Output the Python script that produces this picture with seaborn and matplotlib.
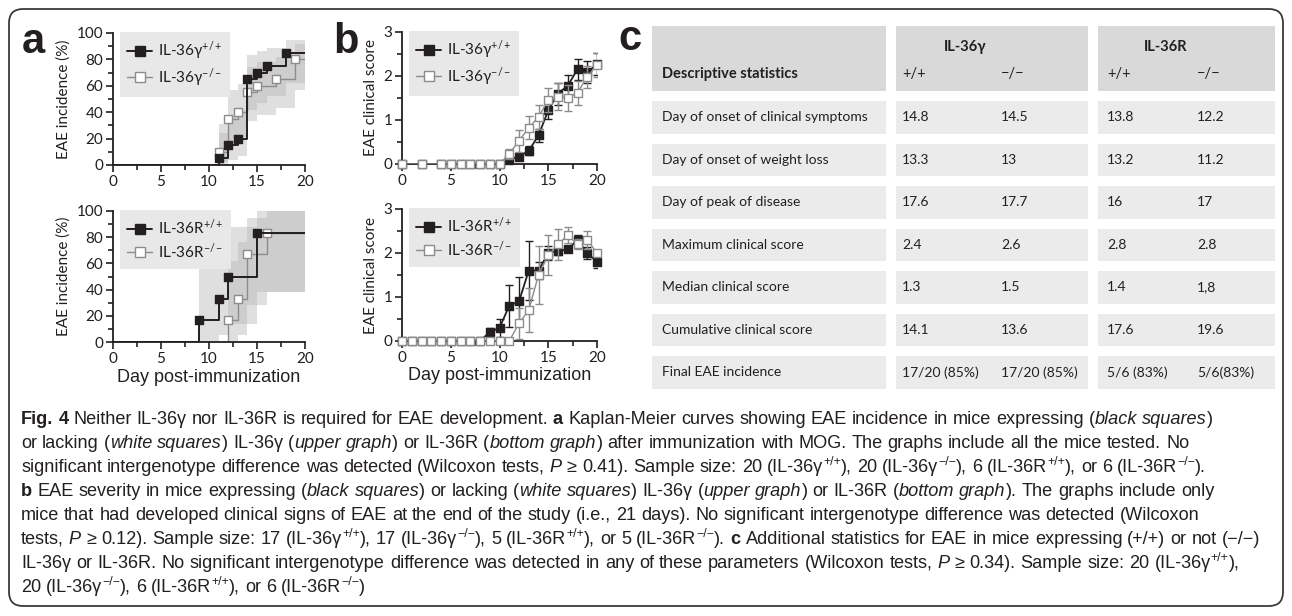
import re
import numpy as np
import pandas as pd
import matplotlib
matplotlib.use("Agg")
import matplotlib.pyplot as plt
import seaborn as sns
from matplotlib import font_manager as fm
from matplotlib.lines import Line2D
from matplotlib.patches import FancyBboxPatch, Rectangle
from matplotlib.ticker import MultipleLocator

# ---------------- data ----------------
# Panel a, upper: Kaplan-Meier EAE incidence (%), IL-36gamma
a1_days_pos = [11, 12, 13, 14, 15, 16, 18]
a1_inc_pos = [5, 15, 20, 65, 70, 75, 85]
a1_lo_pos = [0, 4, 7, 42, 47, 52, 62]
a1_hi_pos = [24, 37, 42, 83, 86, 89, 95]
a1_days_neg = [11, 12, 13, 14, 15, 17, 19]
a1_inc_neg = [10, 35, 40, 55, 60, 65, 80]
a1_lo_neg = [2, 17, 21, 33, 38, 43, 57]
a1_hi_neg = [31, 57, 61, 74, 78, 82, 92]

# Panel a, lower: IL-36R
a2_days_pos = [9, 11, 12, 15]
a2_inc_pos = [17, 33, 50, 83]
a2_lo_pos = [0, 5, 14, 38]
a2_hi_pos = [62, 76, 88, 100]
a2_days_neg = [12, 13, 14, 16]
a2_inc_neg = [17, 33, 67, 83]
a2_lo_neg = [0, 5, 28, 38]
a2_hi_neg = [62, 76, 95, 100]

# Panel b, upper: clinical score (mean, SEM), IL-36gamma
b1_days = [0, 2, 4, 5, 6, 7, 8, 9, 10, 11, 12, 13, 14, 15, 16, 17, 18, 19, 20]
b1_pos = [0, 0, 0, 0, 0, 0, 0, 0, 0, 0.10, 0.17, 0.30, 0.65, 1.22, 1.60, 1.78, 2.15, 2.08, 2.27]
b1_pos_sem = [0, 0, 0, 0, 0, 0, 0, 0, 0, 0.05, 0.07, 0.10, 0.14, 0.20, 0.25, 0.25, 0.23, 0.25, 0.25]
b1_neg = [0, 0, 0, 0, 0, 0, 0, 0, 0, 0.23, 0.53, 0.82, 1.07, 1.45, 1.53, 1.50, 1.62, 1.98, 2.25]
b1_neg_sem = [0, 0, 0, 0, 0, 0, 0, 0, 0, 0.12, 0.25, 0.26, 0.27, 0.27, 0.30, 0.29, 0.27, 0.25, 0.28]

# Panel b, lower: clinical score (mean, SEM), IL-36R
b2_days = [0, 1, 2, 3, 4, 5, 6, 7, 8, 9, 10, 11, 12, 13, 14, 15, 16, 17, 18, 19, 20]
b2_pos = [0, 0, 0, 0, 0, 0, 0, 0, 0, 0.2, 0.3, 0.8, 0.9, 1.6, 1.6, 2.0, 2.05, 2.08, 2.3, 2.0, 1.8]
b2_pos_sem = [0, 0, 0, 0, 0, 0, 0, 0, 0, 0.1, 0.2, 0.48, 0.55, 0.67, 0.2, 0.15, 0.1, 0.06, 0.12, 0.13, 0.15]
b2_neg = [0, 0, 0, 0, 0, 0, 0, 0, 0, 0, 0, 0, 0.4, 0.7, 1.5, 1.95, 2.2, 2.4, 2.2, 2.3, 2.0]
b2_neg_sem = [0, 0, 0, 0, 0, 0, 0, 0, 0, 0, 0, 0, 0.35, 0.5, 0.65, 0.45, 0.35, 0.18, 0.12, 0.2, 0.06]

# Panel c: descriptive statistics table
table_title = "Descriptive statistics"
group_labels = ["IL-36γ", "IL-36R"]
genotype_labels = ["+/+", "−/−", "+/+", "−/−"]
row_labels = ["Day of onset of clinical symptoms", "Day of onset of weight loss",
              "Day of peak of disease", "Maximum clinical score", "Median clinical score",
              "Cumulative clinical score", "Final EAE incidence"]
il36g_pos = ["14.8", "13.3", "17.6", "2.4", "1.3", "14.1", "17/20 (85%)"]
il36g_neg = ["14.5", "13", "17.7", "2.6", "1.5", "13.6", "17/20 (85%)"]
il36r_pos = ["13.8", "13.2", "16", "2.8", "1.4", "17.6", "5/6 (83%)"]
il36r_neg = ["12.2", "11.2", "17", "2.8", "1,8", "19.6", "5/6(83%)"]

legend_g = ["IL-36γ$^{+/+}$", "IL-36γ$^{-/-}$"]
legend_r = ["IL-36R$^{+/+}$", "IL-36R$^{-/-}$"]
ylabel_a = "EAE incidence (%)"
ylabel_b = "EAE clinical score"
xlabel_all = "Day post-immunization"

caption = [
    [("Fig. 4", "b"), (" Neither IL-36γ nor IL-36R is required for EAE development. ", "n"), ("a", "b"),
     (" Kaplan-Meier curves showing EAE incidence in mice expressing (", "n"), ("black squares", "i"), (")", "n")],
    [("or lacking (", "n"), ("white squares", "i"), (") IL-36γ (", "n"), ("upper graph", "i"), (") or IL-36R (", "n"),
     ("bottom graph", "i"), (") after immunization with MOG. The graphs include all the mice tested. No", "n")],
    [("significant intergenotype difference was detected (Wilcoxon tests, ", "n"), ("P", "i"),
     (" ≥ 0.41). Sample size: 20 (IL-36γ", "n"), ("+/+", "s"), ("), 20 (IL-36γ", "n"), ("−/−", "s"),
     ("), 6 (IL-36R", "n"), ("+/+", "s"), ("), or 6 (IL-36R", "n"), ("−/−", "s"), (").", "n")],
    [("b", "b"), (" EAE severity in mice expressing (", "n"), ("black squares", "i"), (") or lacking (", "n"),
     ("white squares", "i"), (") IL-36γ (", "n"), ("upper graph", "i"), (") or IL-36R (", "n"),
     ("bottom graph", "i"), ("). The graphs include only", "n")],
    [("mice that had developed clinical signs of EAE at the end of the study (i.e., 21 days). No significant intergenotype difference was detected (Wilcoxon", "n")],
    [("tests, ", "n"), ("P", "i"), (" ≥ 0.12). Sample size: 17 (IL-36γ", "n"), ("+/+", "s"), ("), 17 (IL-36γ", "n"),
     ("−/−", "s"), ("), 5 (IL-36R", "n"), ("+/+", "s"), ("), or 5 (IL-36R", "n"), ("−/−", "s"), (").", "n"),
     (" c", "b"), (" Additional statistics for EAE in mice expressing (+/+) or not (−/−)", "n")],
    [("IL-36γ or IL-36R. No significant intergenotype difference was detected in any of these parameters (Wilcoxon tests, ", "n"),
     ("P", "i"), (" ≥ 0.34). Sample size: 20 (IL-36γ", "n"), ("+/+", "s"), ("),", "n")],
    [("20 (IL-36γ", "n"), ("−/−", "s"), ("), 6 (IL-36R", "n"), ("+/+", "s"), ("), or 6 (IL-36R", "n"), ("−/−", "s"), (")", "n")],
]

# ---------------- style ----------------
sns.set_theme(style="ticks")
installed = {f.name for f in fm.fontManager.ttflist}


def pick(*names):
    for n in names:
        if n in installed:
            return n
    return "DejaVu Sans"


SANS = pick("Lato", "Open Sans", "Liberation Sans")
NARROW = pick("Liberation Sans Narrow", "Liberation Sans")
HEAVY = pick("Liberation Sans", "DejaVu Sans")
plt.rcParams["font.family"] = [SANS, "DejaVu Sans"]
plt.rcParams["mathtext.fontset"] = "custom"
plt.rcParams["mathtext.rm"] = SANS
plt.rcParams["mathtext.it"] = SANS + ":italic"
plt.rcParams["mathtext.bf"] = SANS + ":bold"

INK = "#231f20"
GRAYLINE = "#8c8c8c"
BAND = (0.72, 0.72, 0.72)

W, H = 1292, 616
fig = plt.figure(figsize=(W / 100, H / 100), dpi=100)
fig.patch.set_facecolor("white")


def rect(l, t, r, b):
    return [l / W, 1 - b / H, (r - l) / W, (b - t) / H]


bg = fig.add_axes([0, 0, 1, 1], zorder=-1)
bg.set_xlim(0, W)
bg.set_ylim(H, 0)
bg.axis("off")
bg.patch.set_alpha(0)

axA1 = fig.add_axes(rect(113, 33, 305, 165))
axA2 = fig.add_axes(rect(113, 211, 305, 342))
axB1 = fig.add_axes(rect(402, 32, 597, 164))
axB2 = fig.add_axes(rect(402, 209, 597, 341))


def style_axes(ax, ymax, ymaj, ymin_, ylabel, xlabel=None):
    ax.set_xlim(0, 20)
    ax.set_ylim(0, ymax)
    ax.xaxis.set_major_locator(MultipleLocator(5))
    ax.xaxis.set_minor_locator(MultipleLocator(2.5))
    ax.yaxis.set_major_locator(MultipleLocator(ymaj))
    ax.yaxis.set_minor_locator(MultipleLocator(ymin_))
    for s in ["top", "right"]:
        ax.spines[s].set_visible(False)
    for s in ["left", "bottom"]:
        ax.spines[s].set_linewidth(1.3)
        ax.spines[s].set_color(INK)
    ax.tick_params(which="major", direction="out", length=5, width=1.2, color=INK,
                   labelsize=11, labelcolor=INK, pad=2)
    ax.tick_params(which="minor", direction="out", length=3.5, width=1.2, color=INK)
    ax.set_ylabel(ylabel, fontsize=11, color=INK, labelpad=4)
    if xlabel:
        ax.set_xlabel(xlabel, fontsize=13, family=[NARROW, "DejaVu Sans"], color=INK, labelpad=2)
    else:
        ax.set_xlabel("")
    ax.set_facecolor("none")


def add_legend(ax, labels):
    h1 = Line2D([], [], color=INK, lw=1.4, marker="s", ms=6.5, mfc=INK, mec=INK)
    h2 = Line2D([], [], color=GRAYLINE, lw=1.0, marker="s", ms=6.5, mfc="white", mec=GRAYLINE)
    leg = ax.legend([h1, h2], labels, loc="upper left", bbox_to_anchor=(0.035, 1.01),
                    frameon=True, fancybox=False, facecolor="#e8e8e8", edgecolor="none",
                    framealpha=1, fontsize=11, handlelength=1.6, handletextpad=0.4,
                    borderpad=0.5, labelspacing=0.25, borderaxespad=0)
    for t in leg.get_texts():
        t.set_color(INK)


def km(ax, days, inc, lo, hi, color, mfc, mec, lw, z):
    xb = list(days) + [20]
    ax.fill_between(xb, list(lo) + [lo[-1]], list(hi) + [hi[-1]], step="post",
                    color=BAND, alpha=0.45, lw=0, zorder=1)
    xs = [0] + list(days) + [20]
    ys = [0] + list(inc) + [inc[-1]]
    sns.lineplot(x=xs, y=ys, drawstyle="steps-post", color=color, lw=lw, ax=ax,
                 estimator=None, legend=False, zorder=z)
    sns.scatterplot(x=days, y=inc, marker="s", s=38, color=mfc, edgecolor=mec, linewidth=1,
                    ax=ax, zorder=z + 1, legend=False, clip_on=False)


def score(ax, days, mean, sem, color, mfc, mec, lw, z):
    d = pd.DataFrame({"day": days, "mean": mean, "sem": sem})
    e = d[d["sem"] > 0]
    ax.errorbar(e["day"], e["mean"], yerr=e["sem"], fmt="none", ecolor=color, elinewidth=1,
                capsize=3, capthick=1, zorder=z)
    sns.lineplot(data=d, x="day", y="mean", color=color, lw=lw, ax=ax, estimator=None,
                 legend=False, zorder=z + 1)
    sns.scatterplot(data=d, x="day", y="mean", marker="s", s=36, color=mfc, edgecolor=mec,
                    linewidth=1, ax=ax, zorder=z + 2, legend=False, clip_on=False)


# panel a
km(axA1, a1_days_neg, a1_inc_neg, a1_lo_neg, a1_hi_neg, GRAYLINE, "white", GRAYLINE, 1.0, 2)
km(axA1, a1_days_pos, a1_inc_pos, a1_lo_pos, a1_hi_pos, INK, INK, INK, 1.4, 4)
km(axA2, a2_days_neg, a2_inc_neg, a2_lo_neg, a2_hi_neg, GRAYLINE, "white", GRAYLINE, 1.0, 2)
km(axA2, a2_days_pos, a2_inc_pos, a2_lo_pos, a2_hi_pos, INK, INK, INK, 1.4, 4)
style_axes(axA1, 100, 20, 10, ylabel_a)
style_axes(axA2, 100, 20, 10, ylabel_a, xlabel_all)
add_legend(axA1, legend_g)
add_legend(axA2, legend_r)

# panel b
score(axB1, b1_days, b1_pos, b1_pos_sem, INK, INK, INK, 1.3, 2)
score(axB1, b1_days, b1_neg, b1_neg_sem, GRAYLINE, "white", GRAYLINE, 1.0, 5)
score(axB2, b2_days, b2_pos, b2_pos_sem, INK, INK, INK, 1.3, 2)
score(axB2, b2_days, b2_neg, b2_neg_sem, GRAYLINE, "white", GRAYLINE, 1.0, 5)
style_axes(axB1, 3, 1, 0.5, ylabel_b)
style_axes(axB2, 3, 1, 0.5, ylabel_b, xlabel_all)
add_legend(axB1, legend_g)
add_legend(axB2, legend_r)

# panel letters
for x, y, s in [(22, 53, "a"), (333, 53, "b"), (618, 50, "c")]:
    bg.text(x, y, s, fontsize=30, fontweight="bold", family=[HEAVY], color=INK,
            ha="left", va="baseline")

# panel c table (pixel layout)
col0 = (652, 886)
sec_g = (896, 1088)
sec_r = (1098, 1275)
hdr = (26, 91)
row_top0, row_step, row_h = 101, 42.5, 32.5
col_x = [902, 1001, 1107, 1197]
TXT = dict(family=[SANS, "DejaVu Sans"], color=INK, va="center", ha="left")
for (l, r) in [col0, sec_g, sec_r]:
    bg.add_patch(Rectangle((l, hdr[0]), r - l, hdr[1] - hdr[0], color="#d9d9d9", lw=0))
    for i in range(len(row_labels)):
        t = row_top0 + i * row_step
        bg.add_patch(Rectangle((l, t), r - l, row_h, color="#ebebeb", lw=0))
bg.text(662, 74, table_title, fontsize=10.5, fontweight="bold", **TXT)
for gi, g in enumerate(group_labels):
    cx = (col_x[2 * gi] + col_x[2 * gi + 1] + 27) / 2
    bg.text(cx, 47, g, fontsize=10.5, fontweight="bold", **{**TXT, "ha": "center"})
for x, g in zip(col_x, genotype_labels):
    bg.text(x, 74, g, fontsize=10.5, **TXT)
cols = [il36g_pos, il36g_neg, il36r_pos, il36r_neg]
for i, lab in enumerate(row_labels):
    yc = row_top0 + i * row_step + row_h / 2
    bg.text(662, yc, lab, fontsize=10, **TXT)
    for x, c in zip(col_x, cols):
        bg.text(x, yc, c[i], fontsize=10, **TXT)

# border
bg.add_patch(FancyBboxPatch((9, 9), W - 18, H - 19, boxstyle="round,pad=0,rounding_size=14",
                            fill=False, lw=1.3, ec="#3a3a3a"))

# caption with rich text
renderer = fig.canvas.get_renderer()


def seg_kw(sty, size):
    kw = dict(fontsize=size, family=[NARROW, "DejaVu Sans"], color=INK, ha="left", va="baseline")
    if sty == "b":
        kw["fontweight"] = "bold"
    if sty == "i":
        kw["fontstyle"] = "italic"
    if sty == "s":
        kw["fontsize"] = size * 0.68
    return kw


def text_w(s, sty, size):
    t = bg.text(0, 0, s, **seg_kw(sty, size))
    w = t.get_window_extent(renderer).width
    t.remove()
    return w


_space = {}


def space_w(sty, size):
    k = (sty, size)
    if k not in _space:
        _space[k] = text_w("x x", sty, size) - text_w("xx", sty, size)
    return _space[k]


def rich_line(x, y, segs, size, draw=True):
    for txt, sty in segs:
        dy = -size * 100 / 72 * 0.38 if sty == "s" else 0
        for piece in re.split(r"( )", txt):
            if piece == "":
                continue
            if piece == " ":
                x += space_w(sty, size)
                continue
            w = text_w(piece, sty, size)
            if draw:
                bg.text(x, y + dy, piece, **seg_kw(sty, size))
            x += w
    return x


CAP_X0, CAP_X1 = 21, 1264
base = 13.0
wmax = max(rich_line(CAP_X0, 0, segs, base, draw=False) - CAP_X0 for segs in caption)
cap_size = base * (CAP_X1 - CAP_X0) / wmax
for i, segs in enumerate(caption):
    rich_line(CAP_X0, 424 + 24 * i, segs, cap_size)

fig.savefig("out.png", dpi=100)
